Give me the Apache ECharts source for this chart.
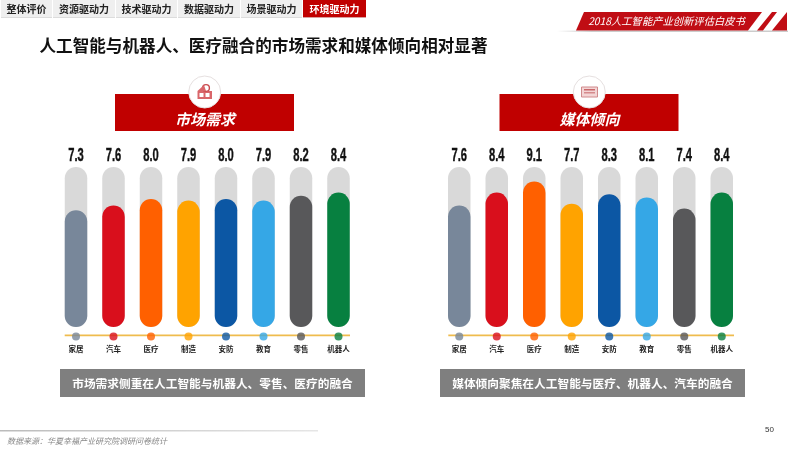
<!DOCTYPE html>
<html><head><meta charset="utf-8">
<style>html,body{margin:0;padding:0;background:#fff}#c{width:800px;height:449px}</style>
<script src="https://cdn.jsdelivr.net/npm/echarts@6/dist/echarts.min.js"></script>
</head><body><div id="c"></div>
<script>
const categories = ['家居','汽车','医疗','制造','安防','教育','零售','机器人'];
const marketDemand = [7.3,7.6,8.0,7.9,8.0,7.9,8.2,8.4];
const mediaTendency = [7.6,8.4,9.1,7.7,8.3,8.1,7.4,8.4];
const trackFull = [10,10,10,10,10,10,10,10];
const dotRow = [0,0,0,0,0,0,0,0];
const barColors = ['#78879a','#d90f1c','#ff6000','#ffa300','#0c57a4','#35a7e6','#58585a','#078040'];
const tabs = ['整体评价','资源驱动力','技术驱动力','数据驱动力','场景驱动力','环境驱动力'];
const titleText = '人工智能与机器人、医疗融合的市场需求和媒体倾向相对显著';
const bannerText = '2018人工智能产业创新评估白皮书';
const panelNames = ['市场需求','媒体倾向'];
const captions = ['市场需求侧重在人工智能与机器人、零售、医疗的融合','媒体倾向聚焦在人工智能与医疗、机器人、汽车的融合'];
const sourceText = '数据来源\uFF1A华夏幸福产业研究院调研问卷统计';
const pageNumber = '50';

const CJK = '"Noto Sans CJK SC","Noto Sans",sans-serif';
const panels = [
  {values: marketDemand, left: 57.25, lineL: 64.7, lineR: 350, boxL: 115, iconX: 204.7, capL: 60},
  {values: mediaTendency, left: 440.5, lineL: 448.3, lineR: 734, boxL: 499.5, iconX: 589.3, capL: 440}
];
const grid = [], xAxis = [], yAxis = [], series = [], graphic = [];
function text(x,y,t,o){return {type:'text',z:o.z||10,x,y,style:Object.assign({text:t,x:0,y:0,align:'center',verticalAlign:'middle',fontFamily:CJK},o.style)};}
function rect(x,y,w,h,fill,z,extra){return Object.assign({type:'rect',z:z||5,shape:{x,y,width:w,height:h},style:{fill}},extra||{});}
function poly(points,fill,z){return {type:'polygon',z:z||5,shape:{points},style:{fill}};}

panels.forEach((p,i)=>{
  const a=i*2,b=i*2+1;
  grid.push({left:p.left,width:300,top:167,height:160});
  grid.push({left:p.left,width:300,top:335.5,height:1});
  xAxis.push({gridIndex:a,type:'category',data:categories,axisLine:{show:false},axisTick:{show:false},axisLabel:{show:false}});
  xAxis.push({gridIndex:b,type:'category',data:categories,axisLine:{show:false},axisTick:{show:false},
    axisLabel:{margin:9,fontSize:7.5,fontWeight:'bold',color:'#222',fontFamily:CJK,interval:0}});
  yAxis.push({gridIndex:a,type:'value',min:0,max:10,interval:2,show:false});
  yAxis.push({gridIndex:b,type:'value',min:0,max:1,interval:1,show:false});
  series.push({type:'bar',xAxisIndex:a,yAxisIndex:a,data:trackFull,barWidth:22.5,barGap:'-100%',silent:true,z:2,
    itemStyle:{color:'#d9d9d9',borderRadius:11.25}});
  series.push({type:'bar',xAxisIndex:a,yAxisIndex:a,data:p.values.map((v,k)=>({value:v,itemStyle:{color:barColors[k]}})),
    barWidth:22.5,barGap:'-100%',silent:true,z:3,itemStyle:{borderRadius:11.25}});
  series.push({type:'custom',xAxisIndex:a,yAxisIndex:a,silent:true,z:4,clip:false,
    data:p.values.map((v,k)=>[k,trackFull[k],v]),
    encode:{x:0,y:1},
    renderItem:(params,api)=>{
      const pt=api.coord([api.value(0),api.value(1)]);
      return {type:'text',x:pt[0],y:pt[1]-11,scaleX:0.62,
        style:{text:api.value(2).toFixed(1),x:0,y:0,align:'center',verticalAlign:'middle',
          font:'bold 18px "Liberation Sans",sans-serif',fill:'#111',stroke:'#111',lineWidth:0.4}};
    }});
  series.push({type:'scatter',xAxisIndex:b,yAxisIndex:b,data:dotRow.map((v,k)=>({value:v,itemStyle:{color:barColors[k]}})),
    symbolSize:8,clip:false,silent:true,z:4});
  graphic.push(rect(p.lineL,334.6,p.lineR-p.lineL,1.6,'#efbc4e',1));
  graphic.push(rect(p.boxL,94,179,37,'#c00000',5));
  graphic.push({type:'circle',z:6,shape:{cx:p.iconX,cy:92,r:16},style:{fill:'#fff',stroke:'#e6e0e0',lineWidth:1}});
  graphic.push(text(p.boxL+90,119,panelNames[i],{style:{fill:'#fff',fontSize:15,fontWeight:'bold',fontStyle:'italic'}}));
  graphic.push(rect(p.capL,369,305,28,'#7f7f7f',5));
  graphic.push(text(p.capL+152.5,384,captions[i],{style:{fill:'#fff',fontSize:11.7,fontWeight:'bold'}}));
});
graphic.push(rect(197.5,91,14.5,8,'#d9666a',7),{type:'circle',z:7,shape:{cx:206,cy:88,r:3.4},style:{fill:'#fff',stroke:'#c9494d',lineWidth:1.4}},
  rect(199.5,93,4,4,'#fff',8),rect(205.5,93,4,4,'#fff',8),poly([[197.5,91],[204,85],[206,91]],'#d9666a',7));
graphic.push(rect(581.5,87,16,10,'#eec9ca',7,{style:{fill:'#f3d5d5',stroke:'#d08a8c',lineWidth:1}}),rect(584,89,11,1.5,'#c9676a',8),rect(584,92,11,1.5,'#d58a8c',8));

const tabX=[[1,52],[53,115],[116,177],[178,240],[241,302],[303,366]];
tabs.forEach((t,i)=>{
  const act=i===tabs.length-1,[l,r]=tabX[i];
  graphic.push(rect(l,0,r-l,17,act?'#c00000':'#efefef',3));
  graphic.push(rect(l,17,r-l,1,act?'#d9a0a0':'#dcdcdc',3));
  graphic.push(text((l+r)/2,9,t,{style:{fill:act?'#fff':'#222',fontSize:10,fontWeight:'bold'}}));
});
graphic.push(text(263.5,46,titleText,{style:{fill:'#111',fontSize:16.6,fontWeight:'bold'}}));
graphic.push(rect(557,30.5,231,1.5,'#ccc',3,{style:{fill:new echarts.graphic.LinearGradient(0,0,1,0,[{offset:0,color:'#fff'},{offset:0.15,color:'#ccc'},{offset:1,color:'#ccc'}])}}));
graphic.push(poly([[584,12],[762,12],[748,30.5],[576,30.5]],'#c00d14'));
graphic.push(poly([[772,12],[777,12],[763,30.5],[757,30.5]],'#c00d14'));
graphic.push(poly([[787,12],[787,30.5],[772,30.5]],'#c00d14'));
graphic.push(text(666.5,21,bannerText,{style:{fill:'#fff',fontSize:10.3,fontStyle:'italic'}}));
graphic.push(rect(0,430,318,1.5,'#ccc',3,{style:{fill:new echarts.graphic.LinearGradient(0,0,1,0,[{offset:0,color:'#bbb'},{offset:1,color:'#e6e6e6'}])}}));
graphic.push({type:'text',z:10,x:7,y:440.7,style:{text:sourceText,x:0,y:0,align:'left',verticalAlign:'middle',fill:'#888',fontSize:8,fontStyle:'italic',fontFamily:CJK}});
graphic.push(text(769.5,429.5,pageNumber,{style:{fill:'#333',fontSize:8,fontFamily:'"Liberation Sans",sans-serif'}}));

const chart = echarts.init(document.getElementById('c'),null,{renderer:'canvas'});
chart.setOption({animation:false,backgroundColor:'#fff',tooltip:{show:false},grid,xAxis,yAxis,series,graphic});
</script></body></html>
